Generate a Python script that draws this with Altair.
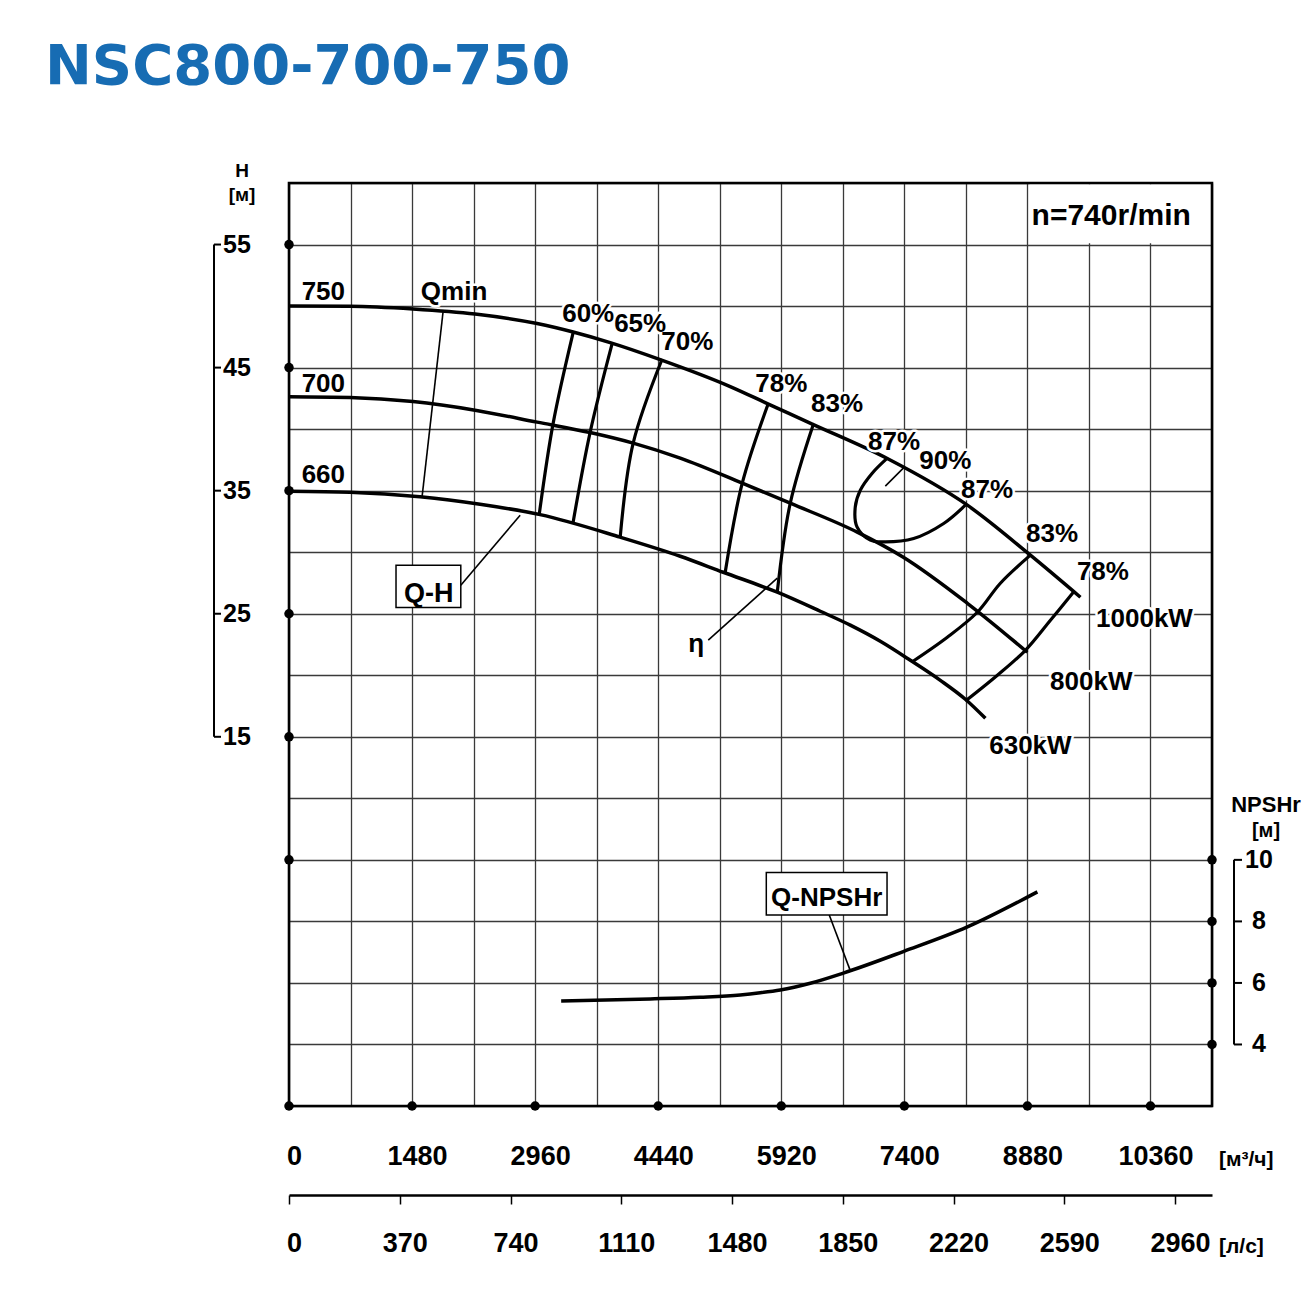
import altair as alt
import pandas as pd

# ---------------- data ----------------
title_text = "NSC800-700-750"

q_max = 11100.0          # m3/h at right edge of frame
h_min, h_max = -15.0, 60.0
npsh_min, npsh_max = 2.0, 32.0
ls_max = q_max / 3.6

grid_q = list(range(0, 11101, 740))
grid_h = list(range(-15, 61, 5))
q_ticks = [0, 1480, 2960, 4440, 5920, 7400, 8880, 10360]
ls_ticks = [0, 370, 740, 1110, 1480, 1850, 2220, 2590, 2960]
h_ticks = [15, 25, 35, 45, 55]
h_dots = [5, 15, 25, 35, 45, 55]
npsh_ticks = [4, 6, 8, 10]

# Q-H curves for impeller diameters
q750 = [0, 734, 1492, 2238, 2984, 3417, 3862, 4464, 5306, 5752, 6293, 7195, 8158, 8916, 9518]
h750 = [50.0, 49.98, 49.76, 49.35, 48.58, 47.89, 47.03, 45.65, 43.46, 42.08, 40.41, 37.61, 33.82, 29.76, 26.34]
q700 = [0, 734, 1492, 2238, 2984, 3622, 4139, 4705, 5451, 6028, 6834, 7388, 8158, 8880]
h700 = [42.63, 42.57, 42.24, 41.54, 40.57, 39.72, 38.86, 37.64, 35.61, 33.98, 31.63, 29.59, 25.85, 21.87]
q660 = [0, 734, 1576, 2298, 3020, 3983, 4705, 5222, 5872, 6389, 6750, 7111, 7472, 7833, 8134, 8375]
h660 = [34.96, 34.88, 34.51, 33.90, 33.05, 31.22, 29.67, 28.37, 26.75, 25.20, 24.07, 22.76, 21.22, 19.59, 18.05, 16.50]

# iso-efficiency lines
e60_q = [3417, 3177, 3008];  e60_h = [47.85, 40.49, 33.01]
e65_q = [3886, 3622, 3417];  e65_h = [46.95, 39.76, 32.44]
e70_q = [4488, 4139, 3983];  e70_h = [45.70, 38.86, 31.22]
e78_q = [5764, 5451, 5246];  e78_h = [42.08, 35.61, 28.37]
e83_q = [6305, 6028, 5872];  e83_h = [40.38, 33.98, 26.75]
e87_q = [7192, 7011, 6871, 6810, 6831, 6991, 7151, 7512, 7873, 8134]
e87_h = [37.62, 36.40, 35.04, 33.68, 32.06, 30.98, 30.84, 31.11, 32.33, 33.82]
e83r_q = [8916, 8555, 8278, 7917, 7496];  e83r_h = [29.76, 27.48, 25.12, 23.09, 21.10]
e78r_q = [9440, 9157, 8856, 8519, 8134];  e78r_h = [26.80, 24.47, 22.03, 20.0, 17.90]

# thin lines (Qmin and leader lines)
qmin_q = [1853, 1600];   qmin_h = [49.55, 34.47]
qh_ptr_q = [2066, 2780]; qh_ptr_h = [27.32, 33.0]
eta_ptr_q = [5042, 5872]; eta_ptr_h = [22.85, 27.89]
p90_q = [7171, 7388];    p90_h = [35.37, 36.83]

# NPSHr curve
npsh_q = [3273, 4344, 4945, 5427, 5667, 5908, 6269, 6666, 7388, 8158, 9000]
npsh_v = [5.41, 5.48, 5.535, 5.61, 5.68, 5.77, 5.99, 6.32, 7.02, 7.82, 8.96]
npsh_ptr_q = [6497, 6750]; npsh_ptr_v = [8.21, 6.40]

# in-plot labels (text baseline positions)
lab_text = ["750", "700", "660", "Qmin", "60%", "65%", "70%", "78%", "83%", "87%",
            "90%", "87%", "83%", "78%", "1000kW", "800kW", "630kW", "η"]
lab_q = [413, 413, 413, 1985, 3598, 4223, 4790, 5920, 6590, 7276,
         7893, 8395, 9177, 9788, 10288, 9648, 8916, 4897]
lab_h = [50.49, 43.03, 35.61, 50.49, 48.72, 47.91, 46.42, 43.03, 41.41, 38.29,
         36.80, 34.37, 30.84, 27.72, 23.93, 18.78, 13.63, 21.87]
speed_lab = {"t": "n=740r/min", "q": 9888, "h": 56.59}
qh_lab = {"t": "Q-H", "q": 1680, "h": 25.96}

# boxes
qh_box = {"q0": 1287, "q1": 2066, "h0": 25.5, "h1": 28.94}
npsh_box = {"q0": 5740, "q1": 7192, "v0": 8.21, "v1": 9.59}
npsh_lab = {"t": "Q-NPSHr", "q": 6466, "v": 8.50}
speed_cell = {"q0": 8905, "q1": 11090, "h0": 55.1, "h1": 59.9}

# ---------------- style ----------------
LAB = "Liberation Sans, Arial, Helvetica, sans-serif"
SANS = "Liberation Sans, Arial, DejaVu Sans, sans-serif"
BLUE = "#176cb3"
GRID = "#3a3a3a"
LFS = 26

xs = alt.Scale(domain=[0, q_max], nice=False, zero=False)
ys = alt.Scale(domain=[h_min, h_max], nice=False, zero=False)
ns = alt.Scale(domain=[npsh_min, npsh_max], nice=False, zero=False)
lss = alt.Scale(domain=[0, ls_max], nice=False, zero=False)


def long(groups):
    rows = []
    for g, qs, hs in groups:
        for i, (q, h) in enumerate(zip(qs, hs)):
            rows.append({"g": g, "i": i, "q": q, "h": h})
    return pd.DataFrame(rows)


def lines(df, width, interp, yscale=ys):
    return alt.Chart(df).mark_line(color="black", strokeWidth=width, interpolate=interp).encode(
        x=alt.X("q:Q", scale=xs, axis=None),
        y=alt.Y("h:Q", scale=yscale, axis=None),
        detail="g:N",
        order="i:Q",
    )


def texts(df, size, yfield="h", yscale=ys, halo=True, weight="bold"):
    enc = dict(x=alt.X("q:Q", scale=xs, axis=None), y=alt.Y(yfield + ":Q", scale=yscale, axis=None), text="t:N")
    out = []
    if halo:
        out.append(alt.Chart(df).mark_text(font=LAB, fontSize=size, fontWeight=weight, baseline="alphabetic",
                                           align="center", stroke="white", strokeWidth=5,
                                           strokeJoin="round").encode(**enc))
    out.append(alt.Chart(df).mark_text(font=LAB, fontSize=size, fontWeight=weight, baseline="alphabetic",
                                       align="center", color="black").encode(**enc))
    return alt.layer(*out)


# grid + m3/h axis
grid_df = pd.DataFrame({"q": [0.0], "h": [0.0]})
grid = alt.Chart(grid_df).mark_point(opacity=0).encode(
    x=alt.X("q:Q", scale=xs, axis=alt.Axis(
        values=grid_q, grid=True, gridColor=GRID, gridWidth=1.3, ticks=False, domain=False,
        format="d", labelExpr="datum.value % 1480 == 0 ? datum.label : ''",
        labelFont=LAB, labelFontSize=27, labelFontWeight="bold", labelColor="black",
        labelPadding=58, labelOffset=5, labelBaseline="alphabetic", labelFlush=False, labelOverlap=False,
        title=None)),
    y=alt.Y("h:Q", scale=ys, axis=alt.Axis(
        values=grid_h, grid=True, gridColor=GRID, gridWidth=1.3, ticks=False, domain=False,
        labels=False, title=None)),
)

# l/s axis
ls_df = pd.DataFrame({"ls": [0.0]})
ls_axis = alt.Chart(ls_df).mark_point(opacity=0).encode(
    x=alt.X("ls:Q", scale=lss, axis=alt.Axis(
        orient="bottom", offset=89, values=ls_ticks, grid=False, format="d",
        domain=True, domainColor="black", domainWidth=2.5,
        ticks=True, tickColor="black", tickWidth=1.5, tickSize=9,
        labelFont=LAB, labelFontSize=27, labelFontWeight="bold", labelColor="black",
        labelPadding=47, labelOffset=5, labelBaseline="alphabetic", labelFlush=False, labelOverlap=False,
        title=None)),
)

cell = alt.Chart(pd.DataFrame([speed_cell])).mark_rect(fill="white").encode(
    x=alt.X("q0:Q", scale=xs, axis=None), x2="q1:Q",
    y=alt.Y("h0:Q", scale=ys, axis=None), y2="h1:Q",
)

curves = lines(long([("750", q750, h750), ("700", q700, h700), ("660", q660, h660)]), 3.5, "monotone")
iso = lines(long([("60", e60_q, e60_h), ("65", e65_q, e65_h), ("70", e70_q, e70_h),
                  ("78", e78_q, e78_h), ("83", e83_q, e83_h), ("87", e87_q, e87_h),
                  ("83r", e83r_q, e83r_h), ("78r", e78r_q, e78r_h)]), 3.2, "catmull-rom")
thin = lines(long([("qmin", qmin_q, qmin_h), ("qh", qh_ptr_q, qh_ptr_h),
                   ("eta", eta_ptr_q, eta_ptr_h), ("p90", p90_q, p90_h)]), 1.6, "linear")

npsh_curve = lines(long([("npsh", npsh_q, npsh_v)]), 3.5, "monotone", ns)
npsh_ptr = lines(long([("ptr", npsh_ptr_q, npsh_ptr_v)]), 1.6, "linear", ns)

qh_box_layer = alt.Chart(pd.DataFrame([qh_box])).mark_rect(fill="white", stroke="black", strokeWidth=1.5).encode(
    x=alt.X("q0:Q", scale=xs, axis=None), x2="q1:Q",
    y=alt.Y("h0:Q", scale=ys, axis=None), y2="h1:Q",
)
npsh_box_layer = alt.Chart(pd.DataFrame([npsh_box])).mark_rect(fill="white", stroke="black", strokeWidth=1.5).encode(
    x=alt.X("q0:Q", scale=xs, axis=None), x2="q1:Q",
    y=alt.Y("v0:Q", scale=ns, axis=None), y2="v1:Q",
)

lab_layer = texts(pd.DataFrame({"t": lab_text, "q": lab_q, "h": lab_h}), LFS)
speed_layer = texts(pd.DataFrame([speed_lab]), 30, halo=False)
qh_text = texts(pd.DataFrame([qh_lab]), 27, halo=False)
npsh_text = texts(pd.DataFrame([npsh_lab]), 26, yfield="v", yscale=ns, halo=False)

# dots on the frame
dot_l = alt.Chart(pd.DataFrame({"h": h_dots, "q": [0.0] * len(h_dots)})).mark_circle(size=90, color="black", opacity=1).encode(
    x=alt.X("q:Q", scale=xs, axis=None), y=alt.Y("h:Q", scale=ys, axis=None))
dot_b = alt.Chart(pd.DataFrame({"q": q_ticks, "h": [h_min] * len(q_ticks)})).mark_circle(size=90, color="black", opacity=1).encode(
    x=alt.X("q:Q", scale=xs, axis=None), y=alt.Y("h:Q", scale=ys, axis=None))
dot_r = alt.Chart(pd.DataFrame({"v": npsh_ticks, "q": [q_max] * len(npsh_ticks)})).mark_circle(size=90, color="black", opacity=1).encode(
    x=alt.X("q:Q", scale=xs, axis=None), y=alt.Y("v:Q", scale=ns, axis=None))

# left bracket axis (H)
hb_df = pd.DataFrame({"a": [min(h_ticks)], "b": [max(h_ticks)]})
h_bracket = alt.Chart(hb_df).mark_rule(color="black", strokeWidth=2).encode(
    x=alt.value(-75), y=alt.Y("a:Q", scale=ys, axis=None), y2="b:Q")
ht_df = pd.DataFrame({"h": h_ticks, "t": [str(v) for v in h_ticks]})
h_tk = alt.Chart(ht_df).mark_rule(color="black", strokeWidth=2).encode(
    x=alt.value(-75), x2=alt.value(-68), y=alt.Y("h:Q", scale=ys, axis=None))
h_lab = alt.Chart(ht_df).mark_text(font=SANS, fontSize=25, fontWeight="bold", align="left", baseline="middle", color="black").encode(
    x=alt.value(-66), y=alt.Y("h:Q", scale=ys, axis=None), text="t:N")

# right bracket axis (NPSHr)
nb_df = pd.DataFrame({"a": [min(npsh_ticks)], "b": [max(npsh_ticks)]})
n_bracket = alt.Chart(nb_df).mark_rule(color="black", strokeWidth=2).encode(
    x=alt.value(945), y=alt.Y("a:Q", scale=ns, axis=None), y2="b:Q")
nt_df = pd.DataFrame({"v": npsh_ticks, "t": [str(v) for v in npsh_ticks]})
n_tk = alt.Chart(nt_df).mark_rule(color="black", strokeWidth=2).encode(
    x=alt.value(945), x2=alt.value(953), y=alt.Y("v:Q", scale=ns, axis=None))
n_lab = alt.Chart(nt_df).mark_text(font=SANS, fontSize=25, fontWeight="bold", align="center", baseline="middle", color="black").encode(
    x=alt.value(970), y=alt.Y("v:Q", scale=ns, axis=None), text="t:N")

# frame
frame = alt.Chart(pd.DataFrame({"q0": [0.0], "q1": [q_max], "h0": [h_min], "h1": [h_max]})).mark_rect(
    fill="transparent", stroke="black", strokeWidth=2.6).encode(
    x=alt.X("q0:Q", scale=xs, axis=None), x2="q1:Q",
    y=alt.Y("h0:Q", scale=ys, axis=None), y2="h1:Q")


# outer texts (titles / units)
def outer_text(t, x, y, size, align="center", font=SANS, color="black", weight="bold"):
    return alt.Chart(pd.DataFrame({"t": [t]})).mark_text(
        font=font, fontSize=size, fontWeight=weight, align=align, baseline="alphabetic", color=color).encode(
        x=alt.value(x), y=alt.value(y), text="t:N")


title_layer = outer_text(title_text, -244, -99, 56, align="left", font="DejaVu Sans", color=BLUE, weight="bold")
t_h = outer_text("H", -47, -6, 19)
t_hm = outer_text("[м]", -47, 18, 19)
t_n = outer_text("NPSHr", 977, 629, 22)
t_nm = outer_text("[м]", 977, 654, 20)
t_q = outer_text("[м³/ч]", 930, 983, 21, align="left")
t_ls = outer_text("[л/с]", 930, 1070, 21, align="left")

chart = alt.layer(
    grid, ls_axis, cell,
    curves, iso, thin, npsh_curve, npsh_ptr,
    qh_box_layer, npsh_box_layer,
    lab_layer, speed_layer, qh_text, npsh_text,
    frame, dot_l, dot_b, dot_r,
    h_bracket, h_tk, h_lab, n_bracket, n_tk, n_lab,
    title_layer, t_h, t_hm, t_n, t_nm, t_q, t_ls,
).resolve_scale(x="independent", y="independent").properties(
    width=923, height=923,
    autosize=alt.AutoSizeParams(type="none"),
    padding={"left": 289, "top": 183, "right": 98, "bottom": 189},
    background="white",
).configure_view(stroke="transparent")

chart.save("out.html", embed_options={"renderer": "svg", "actions": False})
